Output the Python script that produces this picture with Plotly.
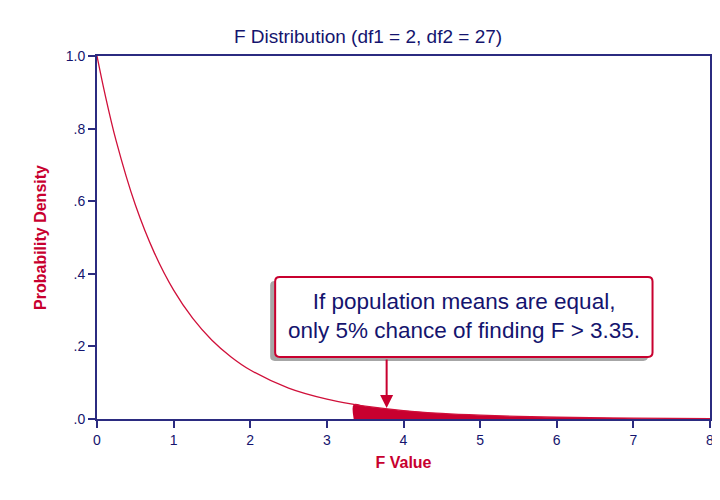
import plotly.graph_objects as go

# F(2, 27) density
f_values = [0, 0.1, 0.25, 0.5, 0.75, 1.0, 1.25, 1.5, 1.75, 2.0, 2.5, 3.0, 3.35, 3.5,
            4.0, 4.5, 5.0, 5.5, 6.0, 7.0, 8.0]
density = [1.0, 0.899, 0.766, 0.590, 0.457, 0.355, 0.277, 0.217, 0.171, 0.135, 0.085,
           0.0545, 0.0402, 0.0353, 0.0232, 0.0154, 0.0104, 0.0071, 0.0048, 0.0023, 0.0012]
critical_f = 3.35
note_lines = ["If population means are equal,", "only 5% chance of finding F > 3.35."]

navy = "#14146e"
crimson = "#c8002f"

tail_x = [x for x in f_values if x >= critical_f]
tail_y = [y for x, y in zip(f_values, density) if x >= critical_f]

fig = go.Figure()

# shaded tail (5%)
fig.add_trace(go.Scatter(x=[critical_f] + tail_x, y=[0] + tail_y, mode="lines",
                         line=dict(color=crimson, width=0, shape="spline"),
                         fill="tozeroy", fillcolor=crimson, hoverinfo="skip"))
fig.add_trace(go.Scatter(x=f_values, y=density, mode="lines",
                         line=dict(color="#d0103a", width=1.3, shape="spline")))

def rounded_box(x0, y0, x1, y1, rx, ry):
    return (f"M{x0 + rx},{y0} L{x1 - rx},{y0} Q{x1},{y0} {x1},{y0 + ry} "
            f"L{x1},{y1 - ry} Q{x1},{y1} {x1 - rx},{y1} L{x0 + rx},{y1} "
            f"Q{x0},{y1} {x0},{y1 - ry} L{x0},{y0 + ry} Q{x0},{y0} {x0 + rx},{y0} Z")

# shadow then box
fig.add_shape(type="path", path=rounded_box(2.26, 0.160, 7.19, 0.380, 0.06, 0.012),
              fillcolor="#a6a6a6", line=dict(width=0), layer="above")
fig.add_shape(type="path", path=rounded_box(2.325, 0.171, 7.25, 0.391, 0.06, 0.012),
              fillcolor="white", line=dict(color=crimson, width=2), layer="above")

fig.add_annotation(x=4.79, y=0.283, text="<br>".join(note_lines), showarrow=False,
                   font=dict(family="Arial, Liberation Sans", size=22.5, color=navy),
                   align="center")
fig.add_annotation(x=3.78, y=0.030, ax=3.78, ay=0.168, xref="x", yref="y",
                   axref="x", ayref="y", text="", showarrow=True,
                   arrowhead=2, arrowsize=1.3, arrowwidth=2, arrowcolor=crimson)

# page has an 8px body margin, so the plot box is shifted back by that much
fig.update_layout(
    width=720, height=500,
    margin=dict(l=89, r=18, t=48, b=89),
    paper_bgcolor="white", plot_bgcolor="white",
    showlegend=False,
    font=dict(family="Arial, Liberation Sans", color=navy),
    title=dict(text="F Distribution (df1 = 2, df2 = 27)", x=0.5, xanchor="center",
               y=0.943, yanchor="middle", font=dict(size=19, color=navy)),
)
fig.update_xaxes(range=[0, 8], tickvals=list(range(9)), showgrid=False, zeroline=False,
                 showline=True, linecolor="#2b2b80", linewidth=2, mirror=True,
                 ticks="outside", ticklen=7, tickcolor="#2b2b80", tickwidth=1.5,
                 tickfont=dict(size=14, color=navy),
                 title=dict(text="<b>F Value</b>", font=dict(size=16, color=crimson), standoff=10))
fig.update_yaxes(range=[0, 1], tickvals=[0, 0.2, 0.4, 0.6, 0.8, 1.0],
                 ticktext=[".0", ".2", ".4", ".6", ".8", "1.0"], showgrid=False, zeroline=False,
                 showline=True, linecolor="#2b2b80", linewidth=2, mirror=True,
                 ticks="outside", ticklen=7, tickcolor="#2b2b80", tickwidth=1.5,
                 tickfont=dict(size=14, color=navy),
                 title=dict(text="<b>Probability Density</b>", font=dict(size=16, color=crimson),
                            standoff=15))

fig.write_html("out.html")
